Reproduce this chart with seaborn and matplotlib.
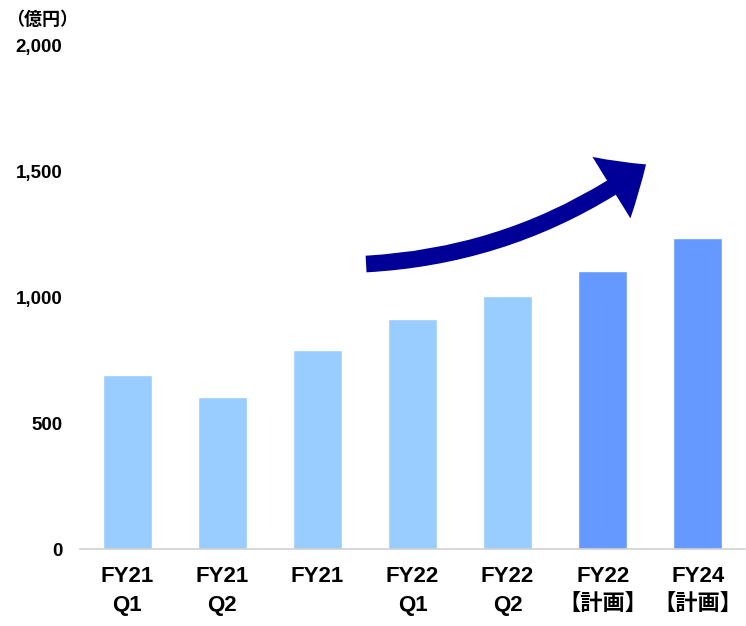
import matplotlib
matplotlib.use("Agg")
import matplotlib.pyplot as plt
from matplotlib.patches import FancyArrowPatch
import seaborn as sns
import pandas as pd

# 売上高の推移（億円）
categories = ["FY21\nQ1", "FY21\nQ2", "FY21", "FY22\nQ1", "FY22\nQ2", "FY22\n【計画】", "FY24\n【計画】"]
values = [690, 603, 790, 913, 1004, 1103, 1234]
kinds = ["実績", "実績", "実績", "実績", "実績", "計画", "計画"]
y_ticks = [0, 500, 1000, 1500, 2000]
y_tick_labels = ["0", "500", "1,000", "1,500", "2,000"]

palette = {"実績": "#99CCFF", "計画": "#6699FF"}

sns.set_theme(style="white")
plt.rcParams["font.family"] = ["Liberation Sans", "Noto Sans CJK JP", "DejaVu Sans"]
plt.rcParams["text.color"] = "black"
plt.rcParams["xtick.color"] = "black"
plt.rcParams["ytick.color"] = "black"

df = pd.DataFrame({"category": categories, "value": values, "kind": kinds})

fig = plt.figure(figsize=(7.46, 6.26), dpi=100)
ax = fig.add_axes([0.107, 0.123, 0.892, 0.805])

sns.barplot(data=df, x="category", y="value", hue="kind", palette=palette,
            dodge=False, width=0.52, legend=False, saturation=1, ax=ax)

ax.set_ylim(0, 2000)
ax.set_xlim(-0.5, len(categories) - 0.5)
ax.set_yticks(y_ticks)
ax.set_yticklabels(y_tick_labels, fontsize=13.5, fontweight="bold")
ax.tick_params(axis="y", length=0, pad=12.5)
ax.set_xticks(range(len(categories)))
ax.set_xticklabels(categories, fontsize=16, fontweight="bold", linespacing=1.5)
ax.tick_params(axis="x", length=0, pad=12)
ax.set_xticks([i - 0.5 for i in range(len(categories) + 1)], minor=True)
ax.tick_params(axis="x", which="minor", length=6, width=1, color="#D0D0D0", direction="out")
ax.set_xlabel("")
ax.set_ylabel("")

for side in ["top", "right", "left"]:
    ax.spines[side].set_visible(False)
ax.spines["bottom"].set_color("#D0D0D0")
ax.spines["bottom"].set_linewidth(1.2)

fig.text(0.008, 0.968, "（億円）", fontsize=13, fontweight="bold", ha="left", va="center")

# 成長を示す曲線矢印
arrow = FancyArrowPatch((0.487, 0.578), (0.869, 0.740), transform=fig.transFigure,
                        connectionstyle="arc3,rad=0.15",
                        arrowstyle="simple,head_length=30,head_width=52,tail_width=12",
                        color="#000099", lw=0, mutation_scale=1)
fig.patches.append(arrow)

fig.savefig("out.png", dpi=100)
